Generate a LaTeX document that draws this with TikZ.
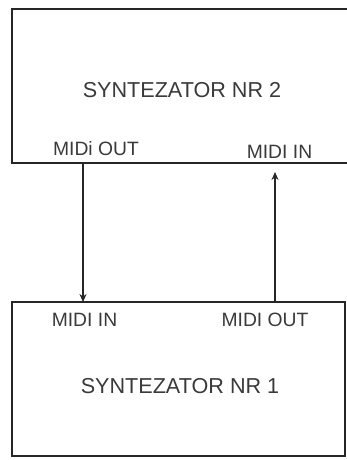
\documentclass[tikz,border=0pt]{standalone}
\usepackage{fontspec}
\setmainfont{Liberation Sans}
\usetikzlibrary{arrows.meta}
\definecolor{inkline}{HTML}{262626}
\definecolor{inktext}{HTML}{3A3A3A}
\begin{document}
\begin{tikzpicture}[x=1pt,y=-1pt,
  synbox/.style={draw=inkline, line width=2.2pt, inner sep=0pt},
  titletext/.style={anchor=base, inner sep=0pt, text=inktext, font=\fontsize{21.6}{25}\selectfont},
  porttext/.style={anchor=base, inner sep=0pt, text=inktext, font=\fontsize{19.3}{22}\selectfont},
  midiarrow/.style={draw=inkline, line width=2.2pt, -{Stealth[length=8pt,width=7pt]}}]
\useasboundingbox (0,0) rectangle (347,460);
\fill[white] (0,0) rectangle (347,460);
\clip (0,0) rectangle (347,460);
% boxes
\draw[synbox] (12,9) rectangle (356,163);
\coordinate (topL) at (83,163);
\coordinate (topR) at (275,172);
\draw[synbox] (12,302) rectangle (345,456);
\coordinate (botL) at (83,302);
\coordinate (botR) at (275,302);
% texts
\node[titletext] (t2) at (182,97.3) {SYNTEZATOR NR 2};
\node[porttext] (out2) at (96,155) {MIDi OUT};
\node[porttext] (in2) at (279.5,158) {MIDI IN};
\node[porttext] (in1) at (84.5,326) {MIDI IN};
\node[porttext] (out1) at (265,326) {MIDI OUT};
\node[titletext] (t1) at (180,393) {SYNTEZATOR NR 1};
% connectors
\draw[midiarrow] (topL) -- (botL);
\draw[midiarrow] (botR) -- (topR);
\end{tikzpicture}
\end{document}
